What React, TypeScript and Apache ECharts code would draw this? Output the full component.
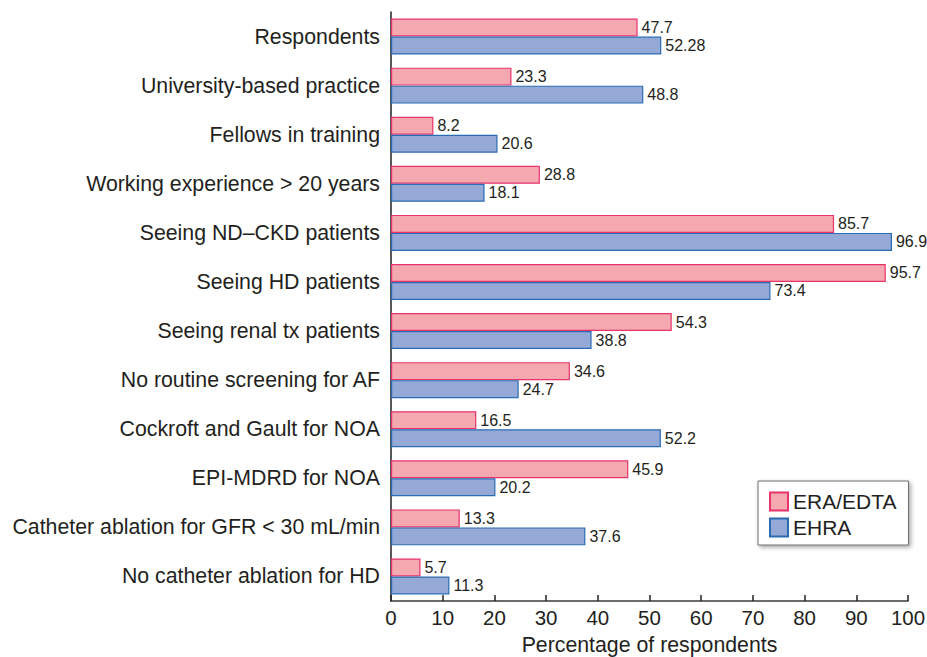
import React, { useEffect, useRef } from "react";
import * as echarts from "echarts";

const categories = [
  "Respondents",
  "University-based practice",
  "Fellows in training",
  "Working experience > 20 years",
  "Seeing ND\u2013CKD patients",
  "Seeing HD patients",
  "Seeing renal tx patients",
  "No routine screening for AF",
  "Cockroft and Gault for NOA",
  "EPI-MDRD for NOA",
  "Catheter ablation for GFR < 30 mL/min",
  "No catheter ablation for HD",
];

const eraEdta = [47.7, 23.3, 8.2, 28.8, 85.7, 95.7, 54.3, 34.6, 16.5, 45.9, 13.3, 5.7];
const ehra = ["52.28", 48.8, 20.6, 18.1, 96.9, 73.4, 38.8, 24.7, 52.2, 20.2, 37.6, 11.3];

const seriesNames = ["ERA/EDTA", "EHRA"];
const xTicks = [0, 10, 20, 30, 40, 50, 60, 70, 80, 90, 100];

export default function App() {
  const ref = useRef<HTMLDivElement>(null);
  useEffect(() => {
    if (!ref.current) return;
    const chart = echarts.init(ref.current, undefined, { renderer: "svg" });
    const font = "'Liberation Sans', Arial, Helvetica, sans-serif";
    const label = {
      show: true,
      position: "right",
      distance: 4,
      fontSize: 16,
      fontFamily: font,
      color: "#231f20",
      formatter: (p: any) => String(p.value),
    };
    chart.setOption({
      animation: false,
      backgroundColor: "#ffffff",
      grid: { left: 391, right: 19, top: 12, bottom: 56, containLabel: false, outerBoundsMode: "none" },
      legend: {
        orient: "vertical",
        left: 758,
        top: 481,
        padding: [10, 12, 7, 11],
        itemWidth: 18,
        itemHeight: 18,
        itemGap: 5,
        icon: "rect",
        backgroundColor: "#ffffff",
        borderColor: "#6d6e70",
        borderWidth: 1,
        borderRadius: 0,
        shadowColor: "rgba(0,0,0,0.35)",
        shadowBlur: 4,
        shadowOffsetX: 2,
        shadowOffsetY: 2,
        textStyle: { fontSize: 21, fontFamily: font, color: "#231f20", padding: [0, 0, 0, 0] },
        data: seriesNames,
      },
      xAxis: {
        type: "value",
        min: 0,
        max: 100,
        interval: 10,
        name: "Percentage of respondents",
        nameLocation: "middle",
        nameGap: 33,
        nameTextStyle: { fontSize: 21.3, fontFamily: font, color: "#231f20" },
        axisLine: { show: true, lineStyle: { color: "#3a3a3a", width: 1.5 } },
        axisTick: { show: true, inside: true, length: 6, lineStyle: { color: "#231f20", width: 1.5 } },
        axisLabel: {
          fontSize: 20.5,
          fontFamily: font,
          color: "#231f20",
          margin: 6,
          formatter: (v: number) => (xTicks.includes(v) ? String(v) : ""),
        },
        splitLine: { show: false },
      },
      yAxis: {
        type: "category",
        data: categories,
        inverse: true,
        axisLine: { show: true, lineStyle: { color: "#231f20", width: 1.5 } },
        axisTick: { show: false },
        axisLabel: { fontSize: 21.3, fontFamily: font, color: "#231f20", margin: 11 },
      },
      series: [
        {
          name: seriesNames[0],
          type: "bar",
          data: eraEdta,
          barWidth: 18,
          barGap: "0%",
          itemStyle: { color: "#f4a9b0", borderColor: "#e8336b", borderWidth: 1.2 },
          label,
        },
        {
          name: seriesNames[1],
          type: "bar",
          data: ehra,
          barWidth: 18,
          barGap: "0%",
          itemStyle: { color: "#94a9d6", borderColor: "#2a6cb3", borderWidth: 1.2 },
          label,
        },
      ],
    });
    return () => chart.dispose();
  }, []);
  return <div ref={ref} style={{ width: 927, height: 657, position: "absolute", left: 0, top: 0 }} />;
}
